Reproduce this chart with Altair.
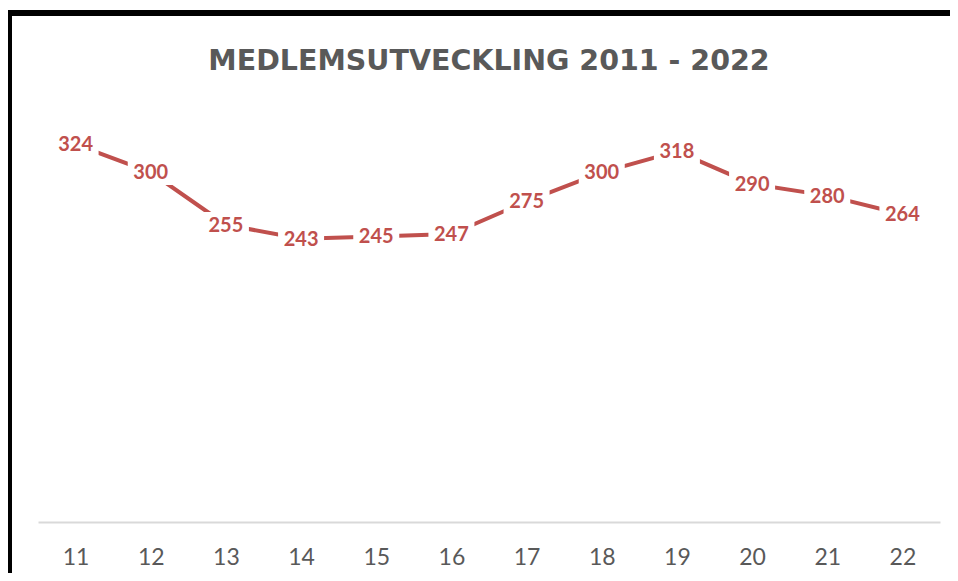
import altair as alt
import pandas as pd

years = ["11", "12", "13", "14", "15", "16", "17", "18", "19", "20", "21", "22"]
members = [324, 300, 255, 243, 245, 247, 275, 300, 318, 290, 280, 264]
title_text = "MEDLEMSUTVECKLING 2011 - 2022"

df = pd.DataFrame({"year": years, "members": members})

RED = "#C0504D"
GRAY = "#595959"
FONT = "Lato"

x_enc = alt.X("year:N", sort=None, title=None,
              axis=alt.Axis(labelAngle=0, ticks=False, domainColor="#D9D9D9", domainWidth=2,
                            labelFontSize=23, labelColor=GRAY, labelFont=FONT,
                            labelPadding=24, grid=False))
y_enc = alt.Y("members:Q", title=None, axis=None,
              scale=alt.Scale(domain=[0, 350], nice=False, zero=True))

base = alt.Chart(df)

line = base.mark_line(color=RED, strokeWidth=4).encode(x=x_enc, y=y_enc)

halo = base.mark_point(
    shape="M -1 -0.55 L 1 -0.55 L 1 0.55 L -1 0.55 Z",
    filled=True, fill="white", stroke=None, opacity=1, size=2116
).encode(x=x_enc, y=y_enc)

labels = base.mark_text(color=RED, font=FONT, fontWeight="bold", fontSize=20,
                        baseline="middle", align="center", dy=1).encode(
    x=x_enc, y=y_enc, text="members:Q")

frame_top = base.mark_rule(color="black", strokeWidth=6, strokeCap="round").encode(
    x=alt.value(-27), x2=alt.value(920), y=alt.value(-101), y2=alt.value(-101))
frame_left = base.mark_rule(color="black", strokeWidth=8).encode(
    x=alt.value(-30), x2=alt.value(-30), y=alt.value(-104), y2=alt.value(460))

chart = alt.layer(line, halo, labels, frame_top, frame_left).properties(
    width=902, height=408,
    title=alt.TitleParams(title_text, fontSize=28.5, font="DejaVu Sans", fontWeight="bold",
                          color=GRAY, anchor="middle", offset=-69),
    autosize=alt.AutoSizeParams(type="none"),
    padding={"left": 30, "top": 106, "right": 10, "bottom": 51},
).configure_view(stroke=None)

chart.save("out.html", embed_options={"renderer": "svg", "actions": False})
